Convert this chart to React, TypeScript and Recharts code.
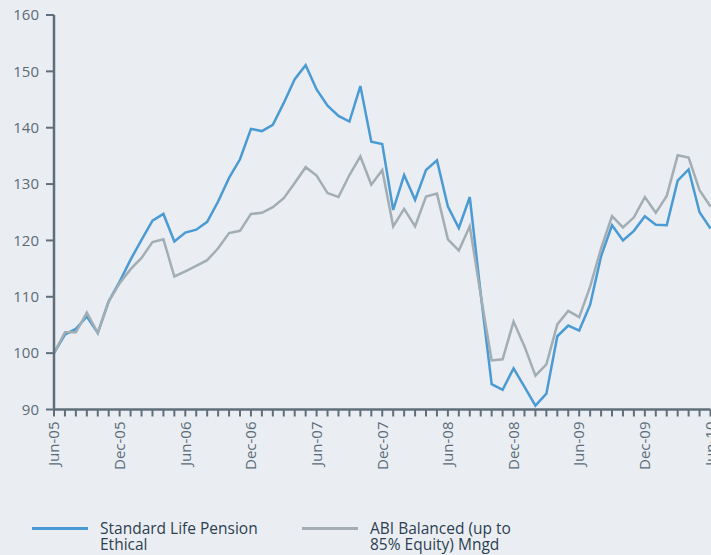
import React from "react";
import { LineChart, Line, XAxis, YAxis } from "recharts";

// monthly index, Jun-05 = 100
const months = [
  "Jun-05", "Jul-05", "Aug-05", "Sep-05", "Oct-05", "Nov-05",
  "Dec-05", "Jan-06", "Feb-06", "Mar-06", "Apr-06", "May-06",
  "Jun-06", "Jul-06", "Aug-06", "Sep-06", "Oct-06", "Nov-06",
  "Dec-06", "Jan-07", "Feb-07", "Mar-07", "Apr-07", "May-07",
  "Jun-07", "Jul-07", "Aug-07", "Sep-07", "Oct-07", "Nov-07",
  "Dec-07", "Jan-08", "Feb-08", "Mar-08", "Apr-08", "May-08",
  "Jun-08", "Jul-08", "Aug-08", "Sep-08", "Oct-08", "Nov-08",
  "Dec-08", "Jan-09", "Feb-09", "Mar-09", "Apr-09", "May-09",
  "Jun-09", "Jul-09", "Aug-09", "Sep-09", "Oct-09", "Nov-09",
  "Dec-09", "Jan-10", "Feb-10", "Mar-10", "Apr-10", "May-10",
  "Jun-10",
];

const labelledMonths = [
  "Jun-05", "Dec-05", "Jun-06", "Dec-06", "Jun-07", "Dec-07",
  "Jun-08", "Dec-08", "Jun-09", "Dec-09", "Jun-10",
];

const standardLife = [
  100, 103.3, 104.3, 106.5, 103.6, 109.2, 112.7, 116.6, 120.1, 123.5, 124.7,
  119.8, 121.4, 121.9, 123.3, 126.9, 131.1, 134.4, 139.8, 139.4, 140.5,
  144.4, 148.6, 151.1, 146.8, 143.9, 142.1, 141.1, 147.4, 137.5, 137.1,
  125.4, 131.6, 127.2, 132.5, 134.2, 126.0, 122.2, 127.7, 110.5, 94.5,
  93.5, 97.3, 94.0, 90.7, 92.8, 103, 104.9, 104, 108.6, 117.2,
  122.7, 120, 121.7, 124.3, 122.8, 122.7, 130.6, 132.6, 125, 122.1,
];

const abiBalanced = [
  100, 103.7, 103.7, 107.2, 103.6, 109.2, 112.4, 114.9, 116.9, 119.7, 120.2,
  113.6, 114.5, 115.5, 116.5, 118.6, 121.3, 121.7, 124.7, 124.9, 125.9,
  127.5, 130.2, 133, 131.5, 128.4, 127.7, 131.6, 134.9, 129.9, 132.5,
  122.5, 125.6, 122.5, 127.8, 128.3, 120.2, 118.2, 122.5, 110.3, 98.7,
  98.9, 105.6, 101.2, 96, 98, 105.1, 107.5, 106.4, 111.8, 118.6,
  124.3, 122.3, 124.1, 127.7, 124.9, 127.9, 135.1, 134.7, 128.9, 126,
];

const yTicks = [90, 100, 110, 120, 130, 140, 150, 160];

const data = months.map((m, i) => ({
  month: m,
  sl: standardLife[i],
  abi: abiBalanced[i],
}));

const AXIS = "#5f6e7a";
const BLUE = "#4a9ad4";
const GREY = "#a2adb4";
const FONT = "'Open Sans', sans-serif";

const MonthTick = (props: any) => {
  const { x, y, payload } = props;
  if (!labelledMonths.includes(payload.value)) return null;
  return (
    <g transform={`translate(${x},${y})`}>
      <text
        transform="rotate(-90)"
        x={-3}
        y={0}
        dy="0.35em"
        textAnchor="end"
        fill="#5b6b78"
        fontSize={15}
        fontFamily={FONT}
      >
        {payload.value}
      </text>
    </g>
  );
};

function LegendItem({ color, lines, left }: { color: string; lines: string[]; left: number }) {
  return (
    <div style={{ position: "absolute", left, top: 520 }}>
      <div
        style={{
          position: "absolute",
          left: 0,
          top: 7,
          width: 56,
          height: 3,
          background: color,
        }}
      />
      <div
        style={{
          position: "absolute",
          left: 68,
          top: 0,
          fontFamily: FONT,
          fontSize: 15.5,
          lineHeight: "16px",
          color: "#2d3f50",
          whiteSpace: "nowrap",
        }}
      >
        {lines.map((l) => (
          <div key={l}>{l}</div>
        ))}
      </div>
    </div>
  );
}

export default function App() {
  return (
    <div
      style={{
        position: "absolute",
        left: 0,
        top: 0,
        width: 711,
        height: 555,
        overflow: "hidden",
        background: "#eaeef3",
      }}
    >
      <LineChart
        width={730}
        height={555}
        data={data}
        margin={{ top: 15, right: 19.5, left: 0, bottom: 75.5 }}
      >
        <XAxis
          dataKey="month"
          interval={0}
          tick={<MonthTick />}
          tickSize={7}
          tickLine={{ stroke: AXIS, strokeWidth: 2 }}
          axisLine={{ stroke: AXIS, strokeWidth: 2.5 }}
          height={70}
        />
        <YAxis
          domain={[90, 160]}
          ticks={yTicks}
          width={54}
          tickSize={8}
          tickMargin={7}
          tickLine={{ stroke: AXIS, strokeWidth: 2 }}
          axisLine={{ stroke: AXIS, strokeWidth: 2.5 }}
          tick={{ fill: "#5b6b78", fontSize: 15, fontFamily: FONT }}
        />
        <Line
          dataKey="sl"
          stroke={BLUE}
          strokeWidth={2.5}
          dot={false}
          isAnimationActive={false}
        />
        <Line
          dataKey="abi"
          stroke={GREY}
          strokeWidth={2.5}
          dot={false}
          isAnimationActive={false}
        />
      </LineChart>
      <LegendItem color={BLUE} left={32} lines={["Standard Life Pension", "Ethical"]} />
      <LegendItem color={GREY} left={302} lines={["ABI Balanced (up to", "85% Equity) Mngd"]} />
    </div>
  );
}
